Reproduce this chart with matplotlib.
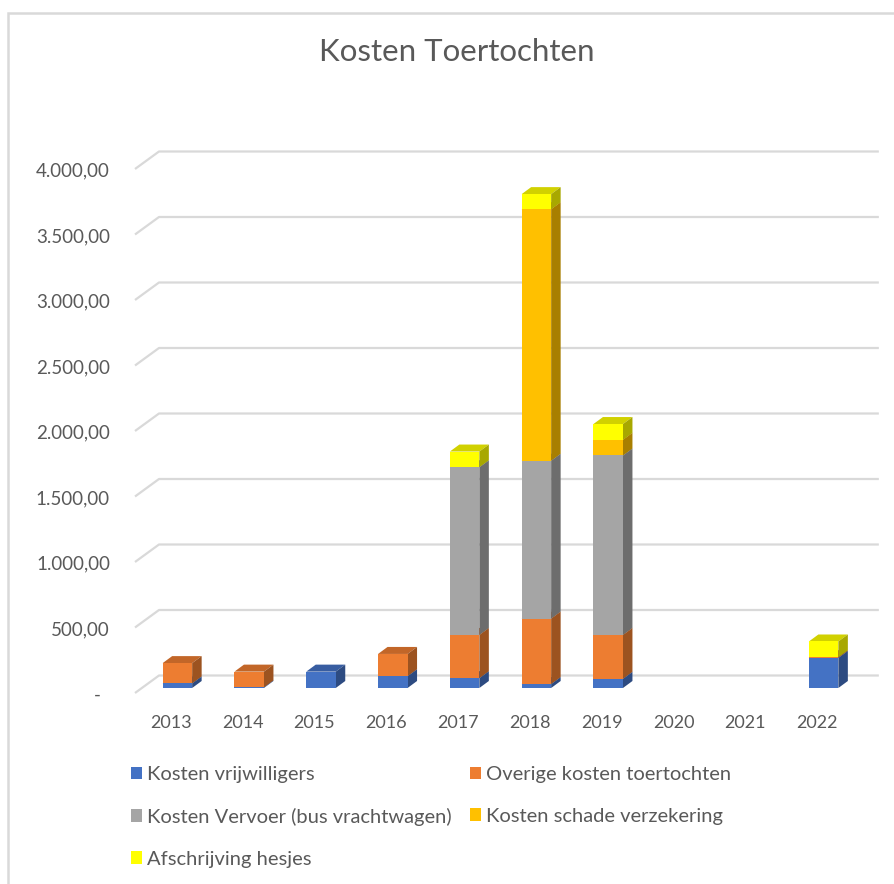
import matplotlib
matplotlib.use("Agg")
import matplotlib.pyplot as plt
import matplotlib.transforms as mtransforms
from matplotlib.patches import Rectangle, Polygon
import numpy as np

plt.rcParams['font.family'] = ['Lato', 'DejaVu Sans']

# ---- data ----
years = ["2013", "2014", "2015", "2016", "2017", "2018", "2019", "2020", "2021", "2022"]
kosten_vrijwilligers = [35, 5, 125, 90, 75, 30, 70, 0, 0, 230]
overige_kosten = [155, 120, 0, 170, 330, 500, 335, 0, 0, 5]
kosten_vervoer = [0, 0, 0, 0, 1280, 1205, 1370, 0, 0, 0]
kosten_schade = [0, 0, 0, 0, 0, 1920, 120, 0, 0, 0]
afschrijving_hesjes = [0, 0, 0, 0, 120, 115, 120, 0, 0, 120]

series_names = ["Kosten vrijwilligers", "Overige kosten toertochten",
                "Kosten Vervoer (bus vrachtwagen)", "Kosten schade verzekering",
                "Afschrijving hesjes"]
series = [kosten_vrijwilligers, overige_kosten, kosten_vervoer, kosten_schade, afschrijving_hesjes]
colors = ["#4472C4", "#ED7D31", "#A5A5A5", "#FFC000", "#FFFF00"]

yticks = [0, 500, 1000, 1500, 2000, 2500, 3000, 3500, 4000]
ytick_labels = ["-", "500,00", "1.000,00", "1.500,00", "2.000,00", "2.500,00",
                "3.000,00", "3.500,00", "4.000,00"]

# ---- layout ----
W, H = 894, 884
fig = plt.figure(figsize=(W / 100, H / 100), dpi=100)
px_per_x = 71.8
px_per_y = 0.131
left_px, bottom_px = 135, 693
xmin, xmax = -0.5, 9.86
ymin, ymax = 0, 4200
ax = fig.add_axes([left_px / W, (H - bottom_px) / H,
                   (xmax - xmin) * px_per_x / W, (ymax - ymin) * px_per_y / H])
ax.set_xlim(xmin, xmax)
ax.set_ylim(ymin, ymax)
for s in ax.spines.values():
    s.set_visible(False)
ax.set_yticks([])
ax.tick_params(length=0)

grid_c = "#d9d9d9"
# 3D back wall gridlines
gdx = 24 / px_per_x
gdy = 17.5 / px_per_y
for v in yticks:
    ax.plot([xmin, xmin + gdx, xmax], [v, v + gdy, v + gdy], color=grid_c,
            lw=1.6, solid_capstyle='butt', zorder=1, clip_on=False)

# y labels
lab_tr = mtransforms.offset_copy(ax.transData, fig=fig, x=-25, y=-2, units='dots')
dash_tr = mtransforms.offset_copy(ax.transData, fig=fig, x=-38, y=-2, units='dots')
for v, lab in zip(yticks, ytick_labels):
    if lab == "-":
        ax.text(xmin, v, lab, transform=dash_tr, ha='center', va='center',
                fontsize=13.5, color="#595959")
    else:
        ax.text(xmin, v, lab, transform=lab_tr, ha='right', va='center',
                fontsize=13.5, color="#595959")

# x labels
x = np.arange(len(years))
ax.set_xticks(x, years)
ax.tick_params(axis='x', pad=16, labelsize=13, labelcolor="#595959")

# ---- 3D stacked bars ----
bar_tr = mtransforms.offset_copy(ax.transData, fig=fig, x=6.5, y=5, units='dots')
bw = 29.5 / px_per_x
ddx = 9.5 / px_per_x
ddy = 7 / px_per_y


def shade(c, f):
    r, g, b = matplotlib.colors.to_rgb(c)
    return (r * f, g * f, b * f)


bottoms = np.zeros(len(years))
z = 3
for vals, col in zip(series, colors):
    vals = np.array(vals, dtype=float)
    for i in range(len(years)):
        h = vals[i]
        if h <= 0:
            continue
        b = bottoms[i]
        x0 = x[i] - bw / 2
        x1 = x[i] + bw / 2
        front = Rectangle((x0, b), bw, h, facecolor=col, edgecolor='none',
                          transform=bar_tr, zorder=z)
        side = Polygon([(x1, b), (x1 + ddx, b + ddy), (x1 + ddx, b + h + ddy), (x1, b + h)],
                       closed=True, facecolor=shade(col, 0.66), edgecolor='none',
                       transform=bar_tr, zorder=z)
        top = Polygon([(x0, b + h), (x1, b + h), (x1 + ddx, b + h + ddy), (x0 + ddx, b + h + ddy)],
                      closed=True, facecolor=shade(col, 0.82), edgecolor='none',
                      transform=bar_tr, zorder=z)
        ax.add_patch(top)
        ax.add_patch(side)
        ax.add_patch(front)
    bottoms += vals
    z += 1

# ---- title ----
fig.text(457 / W, (H - 61) / H, "Kosten Toertochten", ha='center', va='baseline',
         fontsize=22.5, color="#595959")

# ---- legend ----
handles = [Rectangle((0, 0), 1, 1, facecolor=c, edgecolor='none') for c in colors]
order = [0, 2, 4, 1, 3]
leg = fig.legend([handles[i] for i in order], [series_names[i] for i in order],
                 ncol=2, loc='upper left', bbox_to_anchor=(131 / W, (H - 766) / H),
                 frameon=False, fontsize=14.5, labelcolor="#595959",
                 handlelength=0.55, handleheight=0.6, handletextpad=0.25,
                 columnspacing=0.9, labelspacing=1.23, borderpad=0, borderaxespad=0)

# ---- outer border ----
fig.add_artist(Rectangle((7.5 / W, -0.05), 1.1, (H - 12.5) / H + 0.05, transform=fig.transFigure,
                         facecolor='none', edgecolor=grid_c, lw=1.8))

fig.savefig("out.png", dpi=100)
